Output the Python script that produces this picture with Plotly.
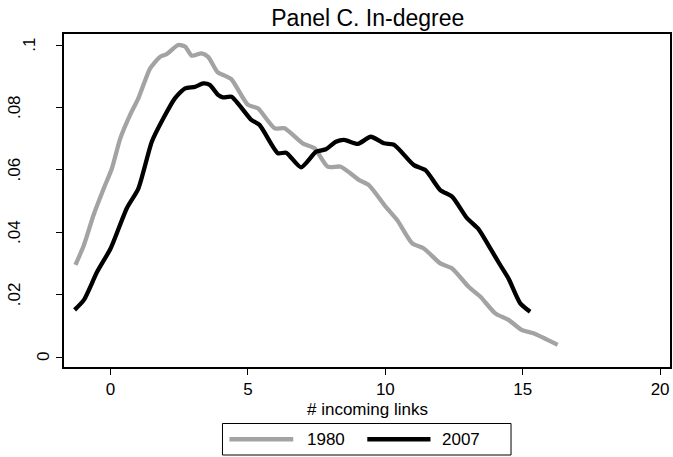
import plotly.graph_objects as go

# 1980 series
x_1980 = [-1.28, -0.97, -0.62, -0.25, 0.05, 0.35, 0.71, 1.01, 1.44, 1.80, 2.04, 2.46, 2.71,
          2.95, 3.31, 3.55, 3.90, 4.15, 4.40, 5.00, 5.36, 5.97, 6.33, 6.99, 7.42, 7.90, 8.38,
          9.05, 9.40, 10.01, 10.43, 10.98, 11.40, 12.00, 12.43, 13.03, 13.46, 14.00, 14.48,
          14.96, 15.39, 16.27]
y_1980 = [0.0295, 0.0359, 0.0455, 0.0540, 0.0605, 0.0700, 0.0776, 0.0829, 0.0925, 0.0962,
          0.0971, 0.1000, 0.0995, 0.0966, 0.0973, 0.0962, 0.0912, 0.0902, 0.0890, 0.0808,
          0.0797, 0.0733, 0.0733, 0.0685, 0.0669, 0.0610, 0.0610, 0.0567, 0.0551, 0.0482,
          0.0439, 0.0364, 0.0348, 0.0300, 0.0284, 0.0225, 0.0193, 0.0140, 0.0119, 0.0087,
          0.0076, 0.0039]

# 2007 series
x_2007 = [-1.31, -0.97, -0.49, 0.00, 0.59, 1.01, 1.50, 1.92, 2.34, 2.71, 3.07, 3.37, 3.61,
          3.91, 4.09, 4.40, 5.12, 5.42, 6.09, 6.39, 6.93, 7.48, 7.84, 8.20, 8.50, 9.00, 9.47,
          9.95, 10.32, 11.04, 11.46, 12.00, 12.43, 12.97, 13.39, 13.82, 14.18, 14.48, 14.91,
          15.27]
y_2007 = [0.0151, 0.0183, 0.0273, 0.0348, 0.0477, 0.0540, 0.0690, 0.0765, 0.0829, 0.0861,
          0.0866, 0.0877, 0.0872, 0.0840, 0.0832, 0.0834, 0.0760, 0.0744, 0.0653, 0.0655,
          0.0608, 0.0658, 0.0666, 0.0690, 0.0696, 0.0683, 0.0706, 0.0685, 0.0680, 0.0615,
          0.0599, 0.0535, 0.0514, 0.0445, 0.0410, 0.0348, 0.0295, 0.0252, 0.0172, 0.0145]

x_ticks = [0, 5, 10, 15, 20]
y_ticks = [0, 0.02, 0.04, 0.06, 0.08, 0.1]
y_tick_text = ["0", ".02", ".04", ".06", ".08", ".1"]

series_names = ["1980", "2007"]
series_colors = ["#a3a3a3", "#000000"]

FONT = "Liberation Sans, Arial, sans-serif"
W, H = 673, 457
ML, MR, MT, MB = 64, 1, 34, 90
PW, PH = W - ML - MR, H - MT - MB


def px_x(p):
    return (p - ML) / PW


def px_y(p):
    return (H - MB - p) / PH


fig = go.Figure()
for xs, ys, name, col in [(x_1980, y_1980, series_names[0], series_colors[0]),
                          (x_2007, y_2007, series_names[1], series_colors[1])]:
    fig.add_trace(go.Scatter(x=xs, y=ys, mode="lines", name=name, showlegend=False,
                             line=dict(color=col, width=4.3, shape="spline", smoothing=0.6)))

# Stata-style rotated y tick labels (offset depends on label length)
label_center = {1: 43, 2: 28.5, 3: 14.5}
annotations = []
for v, t in zip(y_ticks, y_tick_text):
    annotations.append(dict(x=px_x(label_center[len(t)]), xref="paper", y=v, yref="y",
                            text=t, showarrow=False, textangle=-90,
                            xanchor="center", yanchor="middle",
                            font=dict(size=17, family=FONT, color="black")))

# x-axis title
annotations.append(dict(x=0.5, xref="paper", y=px_y(409.5), yref="paper",
                        text="# incoming links", showarrow=False, borderpad=0,
                        xanchor="center", yanchor="middle",
                        font=dict(size=17, family=FONT, color="black")))

# Legend drawn Stata-style (long key lines in a framed box)
shapes = [dict(type="rect", xref="paper", yref="paper",
               x0=px_x(223), x1=px_x(512.5), y0=px_y(455), y1=px_y(423.5),
               line=dict(color="black", width=1), fillcolor="white", layer="above")]
legend_keys = [(230, 294, 306), (368.3, 431.7, 441.5)]
for (k0, k1, tx), name, col in zip(legend_keys, series_names, series_colors):
    shapes.append(dict(type="line", xref="paper", yref="paper",
                       x0=px_x(k0), x1=px_x(k1), y0=px_y(439.3), y1=px_y(439.3),
                       line=dict(color=col, width=4.5), layer="above"))
    annotations.append(dict(x=px_x(tx), xref="paper", y=px_y(439.3), yref="paper",
                            text=name, showarrow=False, xanchor="left", yanchor="middle",
                            font=dict(size=17, family=FONT, color="black")))

fig.update_layout(
    width=W, height=H,
    margin=dict(l=ML, r=MR, t=MT, b=MB),
    paper_bgcolor="white", plot_bgcolor="white",
    font=dict(family=FONT, size=17, color="black"),
    title=dict(text="Panel C. In-degree", x=0.5465, xanchor="center",
               y=1 - 18 / 457, yanchor="middle", yref="container",
               font=dict(size=23, family=FONT, color="black")),
    showlegend=False,
    shapes=shapes,
    annotations=annotations,
)
fig.update_xaxes(range=[-1.696, 20.36], tickvals=x_ticks, ticks="outside", ticklen=6,
                 tickwidth=1, tickcolor="black",
                 showline=True, linecolor="black",
                 linewidth=1.5, mirror=True, showgrid=False, zeroline=False)
fig.update_yaxes(range=[-0.0032, 0.10353], tickvals=y_ticks, showticklabels=False,
                 ticks="outside", ticklen=6, tickwidth=1, tickcolor="black",
                 showline=True, linecolor="black", linewidth=1.5, mirror=True,
                 showgrid=False, zeroline=False)

fig.write_html("out.html")
